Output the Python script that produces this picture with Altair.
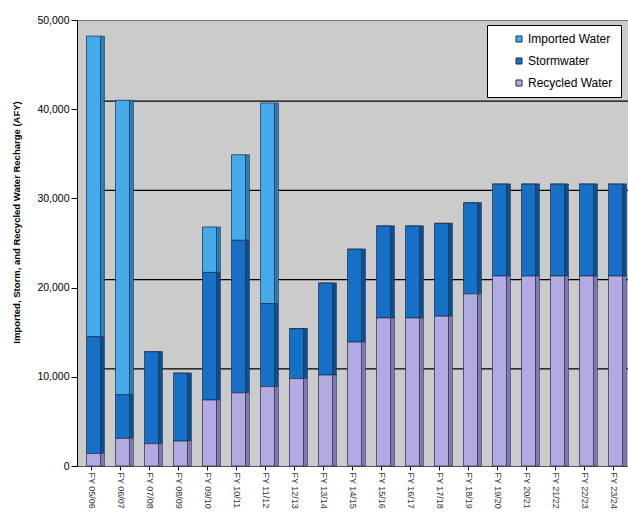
import altair as alt
import pandas as pd

years = ["FY 05/06", "FY 06/07", "FY 07/08", "FY 08/09", "FY 09/10", "FY 10/11",
         "FY 11/12", "FY 12/13", "FY 13/14", "FY 14/15", "FY 15/16", "FY 16/17",
         "FY 17/18", "FY 18/19", "FY 19/20", "FY 20/21", "FY 21/22", "FY 22/23",
         "FY 23/24"]
recycled = [1400, 3100, 2500, 2800, 7400, 8200, 8900, 9800, 10200, 13900, 16600,
            16600, 16800, 19300, 21300, 21300, 21300, 21300, 21300]
stormwater = [13100, 4900, 10300, 7600, 14300, 17100, 9300, 5600, 10300, 10400,
              10300, 10300, 10400, 10200, 10300, 10300, 10300, 10300, 10300]
imported = [33700, 33000, 0, 0, 5100, 9600, 22500, 0, 0, 0, 0, 0, 0, 0, 0, 0, 0,
            0, 0]
y_ticks = [0, 10000, 20000, 30000, 40000, 50000]
grid_levels = [10000, 20000, 30000, 40000]

sources = ["Imported Water", "Stormwater", "Recycled Water"]
front_colors = ["#45aaea", "#1670c8", "#b3aae2"]
side_colors = ["#2a7db5", "#0d4e90", "#8078b4"]
stack_order = {"Recycled Water": 0, "Stormwater": 1, "Imported Water": 2}

rows = []
for i, y in enumerate(years):
    for s, v in zip(sources, [imported[i], stormwater[i], recycled[i]]):
        rows.append({"Year": y, "Source": s, "Value": v,
                     "ord": stack_order[s],
                     "side": side_colors[sources.index(s)]})
df = pd.DataFrame(rows)
grid_df = pd.DataFrame({"Value": grid_levels})

W, H = 551, 446
yscale = alt.Scale(domain=[0, 50000], nice=False)
xscale = alt.Scale(paddingInner=0.5, paddingOuter=0.25)

x_axis = alt.Axis(labelAngle=90, labelAlign="left", labelBaseline="middle",
                  labelFontSize=9, labelColor="#333333",
                  labelFont="Liberation Sans", ticks=True, tickColor="#000000",
                  domainColor="#555555", labelPadding=2, tickSize=4)
y_axis = alt.Axis(values=y_ticks, labelExpr="format(datum.value, ',')",
                  grid=False, labelFontSize=10.5, labelFont="Liberation Sans",
                  labelColor="#000000", domainColor="#000000",
                  tickColor="#000000", tickSize=6, labelPadding=2,
                  title="Imported, Storm, and Recycled Water Recharge (AFY)",
                  titleFont="Liberation Sans", titleFontSize=9.5,
                  titleFontWeight="bold", titleX=-56, titleY=202,
                  titleColor="#000000")

grid = alt.Chart(grid_df).mark_rule(color="#000000", strokeWidth=1.2, yOffset=-8).encode(
    y=alt.Y("Value:Q", scale=yscale, axis=y_axis),
    x=alt.value(10), x2=alt.value(W))

front = alt.Chart(df).mark_bar(size=14, xOffset=2, stroke="#1b2c45", strokeWidth=0.7).encode(
    x=alt.X("Year:N", sort=years, title=None, scale=xscale, axis=x_axis),
    y=alt.Y("Value:Q", stack="zero", scale=yscale, axis=y_axis),
    color=alt.Color("Source:N", scale=alt.Scale(domain=sources, range=front_colors),
                    legend=alt.Legend(title=None, orient="none", legendX=410, legendY=5,
                                      fillColor="#ffffff", strokeColor="#000000",
                                      padding=8, rowPadding=10, symbolType="square",
                                      symbolSize=36, symbolStrokeColor="#1b2c45",
                                      symbolStrokeWidth=1, symbolOffset=18,
                                      labelOffset=3, labelFontSize=12,
                                      labelFont="Liberation Sans", labelColor="#000000",
                                      labelLimit=200, offset=0)),
    order=alt.Order("ord:Q", sort="ascending"))

side = alt.Chart(df).mark_bar(size=4, xOffset=11, stroke="#1b2c45", strokeWidth=0.5).encode(
    x=alt.X("Year:N", sort=years, title=None, scale=xscale, axis=x_axis),
    y=alt.Y("Value:Q", stack="zero", scale=yscale, axis=y_axis),
    fill=alt.Fill("side:N", scale=None),
    order=alt.Order("ord:Q", sort="ascending"))

chart = alt.layer(grid, side, front).properties(
    width=W, height=H,
    padding={"left": 77, "top": 20, "right": 0, "bottom": 46},
    autosize=alt.AutoSizeParams(type="none"),
    background="#ffffff"
).configure_view(fill="#cbcbcb", stroke="#777777", strokeWidth=1)

chart.save("out.html", embed_options={"renderer": "svg", "actions": False})
